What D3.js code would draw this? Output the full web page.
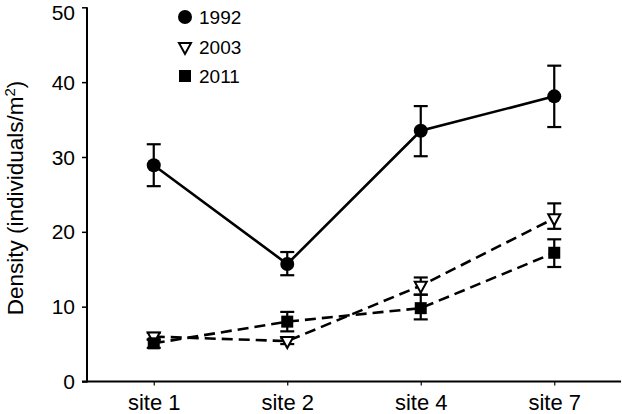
<!DOCTYPE html>
<html><head><meta charset="utf-8">
<script src="https://cdn.jsdelivr.net/npm/d3@7"></script>
<style>body{margin:0;background:#fff}svg{display:block}text{font-family:"Liberation Sans",Arial,sans-serif;fill:#000}</style>
</head><body>
<svg id="c" width="622" height="414"></svg>
<script>
const sites = ["site 1","site 2","site 4","site 7"];
const yTicks = [0,10,20,30,40,50];
const years = ["1992","2003","2011"];
const mean1992 = [28.9,15.7,33.5,38.1];
const lo1992 = [26.1,14.2,30.1,34.0];
const hi1992 = [31.7,17.3,36.8,42.2];
const mean2003 = [6.0,5.4,12.8,21.8];
const lo2003 = [5.6,5.0,11.6,20.4];
const hi2003 = [6.5,5.8,13.9,23.8];
const mean2011 = [5.1,8.0,9.8,17.2];
const lo2011 = [4.5,6.7,8.3,15.3];
const hi2011 = [5.6,9.3,11.6,19.0];

const svg = d3.select("#c");
const x = d3.scalePoint().domain(sites).range([87,621]).padding(0.5);
const y = d3.scaleLinear().domain([0,50]).range([381.5,7.3]);

const series = [
  {name:years[0], mean:mean1992, lo:lo1992, hi:hi1992, dash:null, shape:"circle"},
  {name:years[1], mean:mean2003, lo:lo2003, hi:hi2003, dash:"11,6", shape:"tri"},
  {name:years[2], mean:mean2011, lo:lo2011, hi:hi2011, dash:"11,6", shape:"square"}
];

// axes
const yAxis = svg.append("g").attr("transform","translate(87,0)")
  .call(d3.axisLeft(y).tickValues(yTicks).tickSize(5).tickPadding(7));
yAxis.select(".domain").attr("stroke","#000").attr("stroke-width",2).attr("d",`M0,${y(50)}V${y(0)+1}`);
yAxis.selectAll(".tick line").attr("stroke","#000").attr("stroke-width",1.5);
yAxis.selectAll(".tick text").style("font-size","21px").attr("font-family",null)
  .attr("dy",d=>d===50?"0.56em":"0.34em");

const xAxis = svg.append("g").attr("transform",`translate(0,${y(0)})`)
  .call(d3.axisBottom(x).tickSize(4).tickPadding(9));
xAxis.select(".domain").attr("stroke","#000").attr("stroke-width",2).attr("d","M82,0H621");
xAxis.selectAll(".tick line").attr("stroke","#000").attr("stroke-width",1.2);
xAxis.selectAll(".tick text").style("font-size","22px").attr("font-family",null);

// y label
const lab = svg.append("text").attr("transform",`translate(23,198) rotate(-90)`)
  .attr("text-anchor","middle").style("font-size","22.5px");
lab.append("tspan").text("Density (individuals/m");
lab.append("tspan").text("2").attr("dy","-8").style("font-size","15px");
lab.append("tspan").text(")").attr("dy","8");

const line = d3.line().x((d,i)=>x(sites[i])).y(d=>y(d));

function marker(g, shape, cx, cy){
  if(shape==="circle") g.append("circle").attr("cx",cx).attr("cy",cy).attr("r",7).attr("fill","#000");
  else if(shape==="square") g.append("rect").attr("x",cx-6).attr("y",cy-6).attr("width",12).attr("height",12).attr("fill","#000");
  else g.append("path").attr("d",`M${cx-6},${cy-4}L${cx+6},${cy-4}L${cx},${cy+7}Z`).attr("fill","#fff").attr("stroke","#000").attr("stroke-width",2).attr("stroke-linejoin","miter");
}

// lines (draw dashed first, solid last)
series.slice().reverse().forEach(s=>{
  svg.append("path").datum(s.mean).attr("d",line).attr("fill","none").attr("stroke","#000")
    .attr("stroke-width",2.6).attr("stroke-dasharray",s.dash);
});
// error bars
series.forEach(s=>{
  const g = svg.append("g").attr("stroke","#000").attr("stroke-width",2.2);
  sites.forEach((site,i)=>{
    const cx = x(site);
    g.append("line").attr("x1",cx).attr("x2",cx).attr("y1",y(s.lo[i])).attr("y2",y(s.hi[i]));
    g.append("line").attr("x1",cx-7).attr("x2",cx+7).attr("y1",y(s.lo[i])).attr("y2",y(s.lo[i]));
    g.append("line").attr("x1",cx-7).attr("x2",cx+7).attr("y1",y(s.hi[i])).attr("y2",y(s.hi[i]));
  });
});
// markers
series.forEach(s=>{
  const g = svg.append("g");
  sites.forEach((site,i)=>marker(g, s.shape, x(site), y(s.mean[i])));
});

// legend
const legY = [17,47,76];
series.forEach((s,i)=>{
  const g = svg.append("g");
  marker(g, s.shape, 185, legY[i]);
  g.append("text").attr("x",199).attr("y",legY[i]).attr("dy","0.36em").style("font-size","19px").text(s.name);
});
</script>
</body></html>
